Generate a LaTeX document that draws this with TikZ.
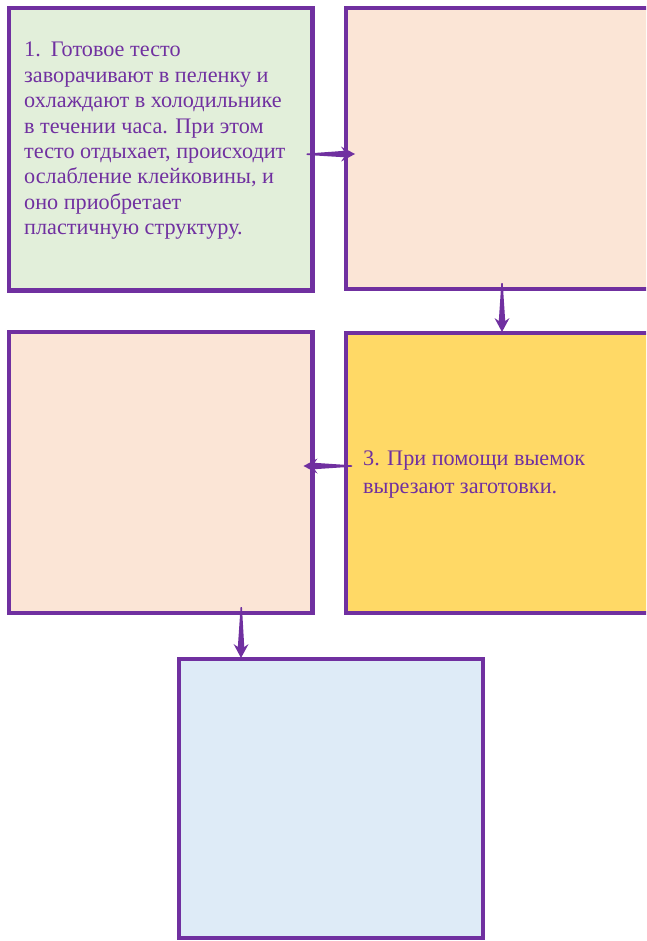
\documentclass[tikz,border=0pt]{standalone}
\usepackage{fontspec}
\setmainfont{Liberation Serif}
\usetikzlibrary{calc}
\definecolor{purp}{HTML}{7030A0}
\definecolor{paleGreen}{HTML}{E2EFDA}
\definecolor{palePeach}{HTML}{FBE5D6}
\definecolor{softYellow}{HTML}{FFD966}
\definecolor{paleBlue}{HTML}{DEEBF7}

% tapered arrow: thin tail growing into a stealth-like head
\newcommand\taperarrow[2]{%
  \coordinate (hbA) at ($(#2)!11pt!(#1)$);
  \coordinate (hbB) at ($(#2)!14pt!(#1)$);
  \fill[purp] ($(#1)!0.7pt!90:(#2)$) -- ($(hbA)!3.2pt!90:(#2)$)
    -- ($(hbB)!7.5pt!90:(#2)$) -- (#2) -- ($(hbB)!7.5pt!-90:(#2)$)
    -- ($(hbA)!3.2pt!-90:(#2)$) -- ($(#1)!0.7pt!-90:(#2)$) -- cycle;
}

\begin{document}
\begin{tikzpicture}[x=1pt,y=-1pt,
  stepbox/.style={draw=purp, line width=4.5pt, outer sep=0pt, inner sep=0pt, anchor=north west},
  steptext/.style={text=purp, font=\fontsize{22.2}{25.4}\selectfont, align=left,
    anchor=north west, inner sep=0pt}]
\useasboundingbox (0,0) rectangle (646,941);
\clip (0,0) rectangle (646,941);
\fill[white] (0,0) rectangle (646,941);

% boxes
\node[stepbox, fill=paleGreen, minimum width=303.5pt, minimum height=282.5pt] (b1) at (9,8) {};
\node[stepbox, fill=palePeach, minimum width=314pt, minimum height=281pt] (b2) at (346,8) {};
\node[stepbox, fill=palePeach, minimum width=303.5pt, minimum height=281pt] (b3) at (9,332) {};
\node[stepbox, fill=softYellow, minimum width=314pt, minimum height=280pt] (b4) at (346,333) {};
\node[stepbox, fill=paleBlue, minimum width=304pt, minimum height=279pt] (b5) at (179,659) {};

% texts
\node[steptext] (t1) at (24,42) {1.\hspace{10pt}Готовое тесто\\
заворачивают в пеленку и\\
охлаждают в холодильнике\\
в течении часа. При этом\\
тесто отдыхает, происходит\\
ослабление клейковины, и\\
оно приобретает\\
пластичную структуру.};
\node[steptext, font=\fontsize{22.2}{27.3}\selectfont] (t4) at (363,451) {3. При помощи выемок\\
вырезают заготовки.};

% connectors
\coordinate (a1s) at ($(b1.east)+(-6,5)$);
\coordinate (a1e) at ($(b2.west)+(9,5.5)$);
\coordinate (a2s) at ($(b2.south)+(-1,-6)$);
\coordinate (a2e) at ($(b4.north)+(-1,-1)$);
\coordinate (a3s) at ($(b4.west)+(6,-7)$);
\coordinate (a3e) at ($(b3.east)+(-9,-6.5)$);
\coordinate (a4s) at ($(b3.south)+(80.5,-6)$);
\coordinate (a4e) at ($(b5.north)+(-90,-1)$);
\taperarrow{a1s}{a1e}
\taperarrow{a2s}{a2e}
\taperarrow{a3s}{a3e}
\taperarrow{a4s}{a4e}
\end{tikzpicture}
\end{document}
